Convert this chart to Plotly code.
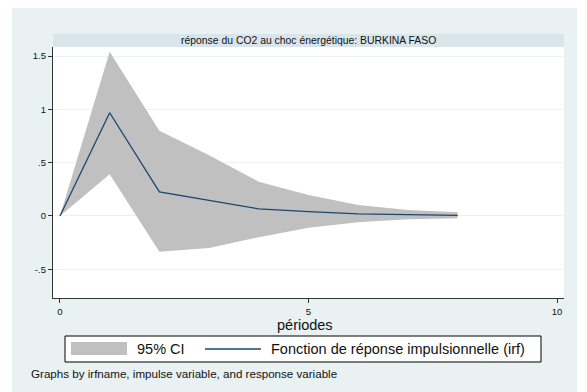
import plotly.graph_objects as go

# ---------------------------------------------------------------------------
# Data
# ---------------------------------------------------------------------------
periods = [0, 1, 2, 3, 4, 5, 6, 7, 8]
irf = [0, 0.968, 0.225, 0.143, 0.066, 0.04, 0.019, 0.012, 0.006]
ci_upper = [0, 1.54, 0.80, 0.57, 0.32, 0.197, 0.103, 0.056, 0.035]
ci_lower = [0, 0.39, -0.335, -0.30, -0.20, -0.11, -0.06, -0.031, -0.022]

y_ticks = [-0.5, 0, 0.5, 1, 1.5]
y_ticklabels = ["-.5", "0", ".5", "1", "1.5"]
x_ticks = [0, 5, 10]

series_names = ["95% CI", "Fonction de réponse impulsionnelle (irf)"]
panel_title = "réponse du CO2 au choc énergétique: BURKINA FASO"
x_title = "périodes"
note = "Graphs by irfname, impulse variable, and response variable"

COLORS = {
    "outer": "#e9f1f3",
    "strip": "#d9e5eb",
    "grid": "#eaf2f3",
    "ci": "#c0c0c0",
    "irf": "#1a476f",
    "axis": "#333333",
    "text": "#111111",
}
FONT = "Liberation Sans, Arial, sans-serif"

# page is 587x392 but the html body has an 8px margin, so the figure is
# drawn 8px smaller and the plot area sits at page px x 53..564, y 47..298
OFF = 8
W, H = 587 - OFF, 392 - OFF
L, R, T, B = 53, 564, 47, 298
PW, PH = R - L, B - T


def px(x):
    return (x - L) / PW


def py(y):
    return (B - y) / PH


fig = go.Figure()

# CI band
fig.add_trace(go.Scatter(
    x=periods, y=ci_lower, mode="lines",
    line=dict(color=COLORS["ci"], width=0),
    hoverinfo="skip", showlegend=False,
))
fig.add_trace(go.Scatter(
    x=periods, y=ci_upper, mode="lines",
    line=dict(color=COLORS["ci"], width=0),
    fill="tonexty", fillcolor=COLORS["ci"],
    name=series_names[0], showlegend=False,
))
# IRF line
fig.add_trace(go.Scatter(
    x=periods, y=irf, mode="lines",
    line=dict(color=COLORS["irf"], width=1.3),
    name=series_names[1], showlegend=False,
))

shapes = [
    # outer graph region
    dict(type="rect", xref="paper", yref="paper",
         x0=px(12), x1=px(577), y0=py(400), y1=py(6),
         fillcolor=COLORS["outer"], line_width=0, layer="below"),
    # plot region (white)
    dict(type="rect", xref="paper", yref="paper",
         x0=0, x1=1, y0=0, y1=1,
         fillcolor="white", line_width=0, layer="below"),
    # title strip
    dict(type="rect", xref="paper", yref="paper",
         x0=0, x1=1, y0=1, y1=py(34),
         fillcolor=COLORS["strip"], line_width=0, layer="below"),
    # legend box
    dict(type="rect", xref="paper", yref="paper",
         x0=px(65), x1=px(541), y0=py(362), y1=py(336),
         fillcolor="white", line=dict(color="#000000", width=1)),
    # legend swatches
    dict(type="rect", xref="paper", yref="paper",
         x0=px(71), x1=px(127), y0=py(355), y1=py(342),
         fillcolor=COLORS["ci"], line_width=0),
    dict(type="line", xref="paper", yref="paper",
         x0=px(205), x1=px(261), y0=py(349), y1=py(349),
         line=dict(color=COLORS["irf"], width=1.3)),
]

annotations = [
    dict(text=panel_title, x=0.5, y=py(40.5), xref="paper", yref="paper",
         showarrow=False, xanchor="center", yanchor="middle",
         font=dict(size=10.4, color=COLORS["text"])),
    dict(text=x_title, x=px(305), y=py(325), xref="paper", yref="paper",
         showarrow=False, xanchor="center", yanchor="middle",
         font=dict(size=14.5, color=COLORS["text"])),
    dict(text=series_names[0], x=px(135), y=py(349), xref="paper", yref="paper",
         showarrow=False, xanchor="left", yanchor="middle",
         font=dict(size=14.5, color=COLORS["text"])),
    dict(text=series_names[1], x=px(269), y=py(349), xref="paper", yref="paper",
         showarrow=False, xanchor="left", yanchor="middle",
         font=dict(size=14.5, color=COLORS["text"])),
    dict(text=note, x=px(29), y=py(373), xref="paper", yref="paper",
         showarrow=False, xanchor="left", yanchor="middle",
         font=dict(size=11.6, color=COLORS["text"])),
]

fig.update_layout(
    width=W, height=H,
    margin=dict(l=L - OFF, r=W - (R - OFF), t=T - OFF, b=H - (B - OFF), pad=0),
    paper_bgcolor="white",
    plot_bgcolor="rgba(0,0,0,0)",
    font=dict(family=FONT, color=COLORS["text"]),
    showlegend=False,
    shapes=shapes,
    annotations=annotations,
    xaxis=dict(
        range=[-0.14, 10.14], tickvals=x_ticks,
        showgrid=False, zeroline=False,
        showline=True, linecolor=COLORS["axis"], linewidth=1.3,
        ticks="outside", ticklen=4, tickwidth=1, tickcolor=COLORS["axis"],
        tickfont=dict(size=9.5),
    ),
    yaxis=dict(
        range=[-0.77, 1.585], tickvals=y_ticks, ticktext=y_ticklabels,
        showgrid=True, gridcolor=COLORS["grid"], gridwidth=1,
        zeroline=False,
        showline=True, linecolor=COLORS["axis"], linewidth=1.3,
        ticks="outside", ticklen=4, tickwidth=1, tickcolor=COLORS["axis"],
        tickfont=dict(size=9.5),
    ),
)

fig.write_html("out.html")
